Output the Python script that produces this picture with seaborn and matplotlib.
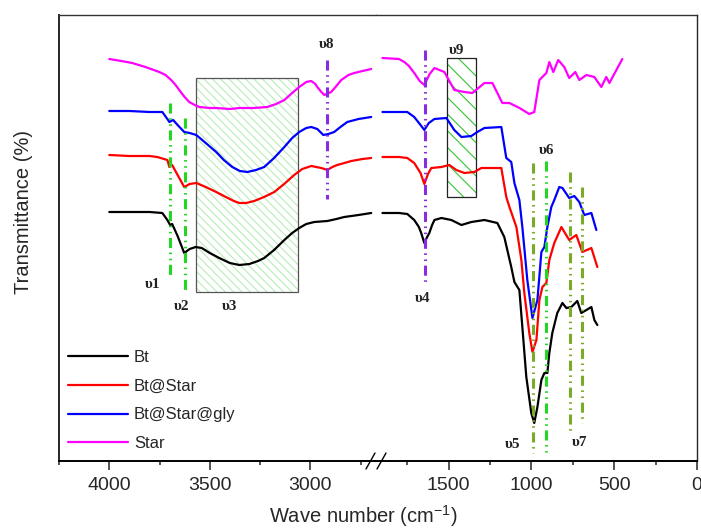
import numpy as np
import pandas as pd
import matplotlib
matplotlib.use("Agg")
import matplotlib.pyplot as plt
import seaborn as sns
from matplotlib.lines import Line2D
from matplotlib.patches import Rectangle
from matplotlib.ticker import MultipleLocator

# -----------------------------
# FTIR spectra (wavenumber cm-1 / offset transmittance, arbitrary units)
# -----------------------------
bt_wn = [4000, 3900, 3800, 3736, 3711, 3697, 3687, 3660, 3627, 3600, 3570, 3540, 3500, 3453, 3400, 3353, 3303,
         3260, 3229, 3180, 3129, 3090, 3055, 3020, 2980, 2915, 2870, 2831, 2760, 2697,
         1900, 1800, 1750, 1708, 1680, 1666, 1647, 1630, 1617, 1600, 1586, 1544, 1484, 1423, 1363, 1284, 1206,
         1164, 1122, 1103, 1073, 1055, 1031, 1001, 983, 964, 940, 922, 904, 892, 874, 844, 813, 789, 759, 723,
         699, 668, 638, 620, 602]
bt_t = [249, 249, 249, 248, 241, 236, 237, 225, 208, 212, 214, 213, 208, 203, 198, 196, 197,
        200, 203, 211, 221, 228, 233, 237, 239, 240, 242, 244, 246, 248,
        248, 248, 247, 241, 234, 228, 218, 224, 228, 236, 241, 243, 241, 236, 239, 241, 238,
        224, 194, 179, 171, 134, 84, 48, 38, 54, 81, 88, 88, 108, 128, 148, 158, 153, 154, 160,
        148, 151, 154, 141, 136]

bts_wn = [4000, 3900, 3800, 3761, 3711, 3701, 3687, 3660, 3627, 3600, 3567, 3520, 3468, 3420, 3380, 3353, 3320,
          3279, 3230, 3179, 3130, 3080, 3040, 2995, 2945, 2915, 2890, 2866, 2830, 2796, 2740, 2697,
          1900, 1800, 1750, 1708, 1670, 1647, 1625, 1605, 1544, 1496, 1454, 1405, 1345, 1303, 1182, 1152, 1133,
          1091, 1061, 1043, 1013, 994, 970, 952, 934, 910, 892, 862, 819, 801, 772, 729, 693, 638, 602]
bts_t = [306, 305, 305, 304, 301, 294, 296, 286, 274, 277, 278, 274, 269, 264, 260, 258, 258,
         260, 264, 269, 277, 286, 292, 295, 293, 291, 294, 296, 298, 300, 302, 303,
         304, 304, 303, 298, 288, 277, 287, 293, 294, 296, 291, 288, 289, 293, 293, 264, 254,
         234, 201, 168, 128, 109, 121, 161, 174, 178, 201, 218, 234, 229, 221, 226, 209, 213, 194]

btsg_wn = [4000, 3900, 3800, 3736, 3711, 3701, 3682, 3660, 3627, 3600, 3567, 3520, 3468, 3430, 3388, 3350, 3313,
           3270, 3229, 3180, 3129, 3090, 3055, 3020, 2995, 2965, 2935, 2910, 2881, 2850, 2816, 2760, 2697,
           1900, 1800, 1750, 1708, 1670, 1647, 1620, 1586, 1514, 1466, 1423, 1363, 1327, 1284, 1182, 1152, 1122,
           1103, 1073, 1055, 1025, 994, 964, 940, 922, 904, 880, 862, 832, 813, 772, 741, 711, 681, 638, 608]
btsg_t = [350, 350, 349, 349, 342, 339, 341, 336, 329, 328, 326, 318, 309, 301, 294, 290, 289,
          291, 294, 303, 314, 323, 329, 333, 334, 332, 326, 327, 329, 334, 339, 342, 344,
          349, 349, 349, 344, 336, 331, 338, 342, 343, 331, 324, 325, 329, 333, 334, 303, 299,
          278, 261, 234, 181, 143, 161, 209, 214, 234, 254, 261, 274, 273, 263, 265, 259, 246, 248, 231]

star_wn = [4000, 3940, 3886, 3820, 3751, 3720, 3692, 3670, 3652, 3625, 3602, 3575, 3552, 3500, 3468, 3400, 3353,
           3280, 3214, 3170, 3129, 3090, 3055, 3020, 2995, 2975, 2965, 2945, 2930, 2896, 2870, 2846, 2810, 2781,
           2740, 2697,
           1900, 1800, 1768, 1740, 1708, 1675, 1647, 1615, 1586, 1526, 1466, 1405, 1357, 1284, 1236, 1176, 1133,
           1072, 1013, 983, 952, 910, 892, 868, 838, 802, 772, 735, 711, 668, 620, 578, 548, 529, 487, 451]
star_t = [402, 400, 398, 394, 389, 386, 381, 376, 371, 364, 359, 356, 354, 353, 353, 352, 353,
          353, 354, 357, 361, 368, 374, 379, 380, 377, 374, 369, 366, 369, 375, 381, 386, 388,
          390, 392,
          403, 402, 399, 395, 388, 380, 376, 387, 393, 389, 371, 369, 368, 378, 378, 358, 358,
          353, 347, 349, 381, 388, 399, 389, 401, 394, 383, 389, 381, 386, 384, 374, 384, 378, 391, 402]

samples = ["Bt", "Bt@Star", "Bt@Star@gly", "Star"]
colors = ["black", "red", "blue", "magenta"]

# band markers: wavenumber, line from/to (in transmittance units)
band_wn = [3697, 3622, 2915, 1641, 988, 910, 765, 694]
band_top = [358, 343, 401, 411, 298, 300, 289, 274]
band_bot = [186, 171, 262, 176, 8, 9, 28, 38]
band_col = ["#22d622", "#22d622", "#8a2be2", "#8a2be2", "#7aab27", "#22d622", "#7aab27", "#7aab27"]

band_labels = ["υ1", "υ2", "υ3", "υ8", "υ9", "υ4", "υ5", "υ6", "υ7"]
label_wn = [3786, 3642, 3403, 2920, 1453, 1659, 1116, 910, 711]
label_t = [176, 154, 154, 416, 411, 162, 16, 311, 19]

df = pd.concat([
    pd.DataFrame({"wn": w, "T": t, "sample": s})
    for w, t, s in zip([bt_wn, bts_wn, btsg_wn, star_wn], [bt_t, bts_t, btsg_t, star_t], samples)
])

# -----------------------------
# Plot
# -----------------------------
sns.set_style("white")
plt.rcParams["font.family"] = ["Liberation Sans", "DejaVu Sans"]
plt.rcParams["mathtext.fontset"] = "custom"
plt.rcParams["mathtext.rm"] = "Liberation Sans"
plt.rcParams["hatch.linewidth"] = 0.8

W, H = 701, 529
fig = plt.figure(figsize=(W / 100, H / 100), dpi=100)
ax1 = fig.add_axes([59 / W, 1 - 461 / H, (376 - 59) / W, (461 - 15) / H])
ax2 = fig.add_axes([376 / W, 1 - 461 / H, (697 - 376) / W, (461 - 15) / H])

sns.lineplot(data=df[df["wn"] > 2500], x="wn", y="T", hue="sample", hue_order=samples,
             palette=colors, estimator=None, lw=1.6, ax=ax1)
sns.lineplot(data=df[df["wn"] < 2500], x="wn", y="T", hue="sample", hue_order=samples,
             palette=colors, estimator=None, lw=1.6, ax=ax2, legend=False)

ax1.set_xlim(4250, 2673)
ax2.set_xlim(1939, 0)
ax1.set_xticks([4000, 3500, 3000])
ax2.set_xticks([1500, 1000, 500, 0])
for ax in (ax1, ax2):
    ax.set_ylim(0, 446)
    ax.set_yticks([])
    ax.set_xlabel("")
    ax.set_ylabel("")
    ax.xaxis.set_minor_locator(MultipleLocator(250))
    ax.tick_params(axis="x", which="major", bottom=True, direction="out", length=6.5, width=1.1,
                   labelsize=14, pad=5)
    ax.tick_params(axis="x", which="minor", bottom=True, direction="out", length=3, width=1.1)
    for side in ("bottom", "left"):
        ax.spines[side].set_linewidth(1.4)
    for side in ("top", "right"):
        ax.spines[side].set_linewidth(1.0)
    ax.spines["bottom"].set_color("black")
    ax.spines["top"].set_color("#333333")
ax1.spines["right"].set_visible(False)
ax2.spines["left"].set_visible(False)

# band marker lines
dd = (0, (3.3, 1.5, 0.5, 1.5, 0.5, 1.5))
for w, y0, y1, c in zip(band_wn, band_top, band_bot, band_col):
    ax = ax1 if w > 2500 else ax2
    ax.plot([w, w], [y0, y1], color=c, lw=2.2, ls=dd, zorder=3)

# hatched regions
ax1.add_patch(Rectangle((3060, 169), 507, 214, fill=False, hatch="\\\\\\\\", edgecolor="#b8ecb8", lw=0))
ax1.add_patch(Rectangle((3060, 169), 507, 214, fill=False, edgecolor="#555555", lw=0.9))
ax2.add_patch(Rectangle((1333, 264), 175, 139, fill=False, hatch="\\\\", edgecolor="#33c433", lw=0))
ax2.add_patch(Rectangle((1333, 264), 175, 139, fill=False, edgecolor="#222222", lw=0.9))

for lab, w, t in zip(band_labels, label_wn, label_t):
    ax = ax1 if w > 2500 else ax2
    ax.text(w, t, lab, ha="center", va="center", fontsize=11, fontweight="bold",
            family=["Liberation Serif", "DejaVu Serif"], color="#222222")

# legend
ax1.legend(loc="upper left", bbox_to_anchor=(68 / W, 1 - 350 / H), bbox_transform=fig.transFigure,
           frameon=False, borderaxespad=0, borderpad=0, handlelength=3.6, handletextpad=0.35,
           labelspacing=0.82, fontsize=12)

# axis break marks
for x0 in (366, 377):
    fig.add_artist(Line2D([x0 / W, (x0 + 9) / W], [1 - 469 / H, 1 - 453 / H],
                          transform=fig.transFigure, color="black", lw=1))

fig.text(363 / W, 1 - 516 / H, "Wave number (cm$^{\\mathregular{-1}}$)", ha="center", va="center", fontsize=14.5)
fig.text(24 / W, 1 - 212 / H, "Transmittance (%)", ha="center", va="center", rotation=90, fontsize=14.5)

fig.savefig("out.png", dpi=100)
